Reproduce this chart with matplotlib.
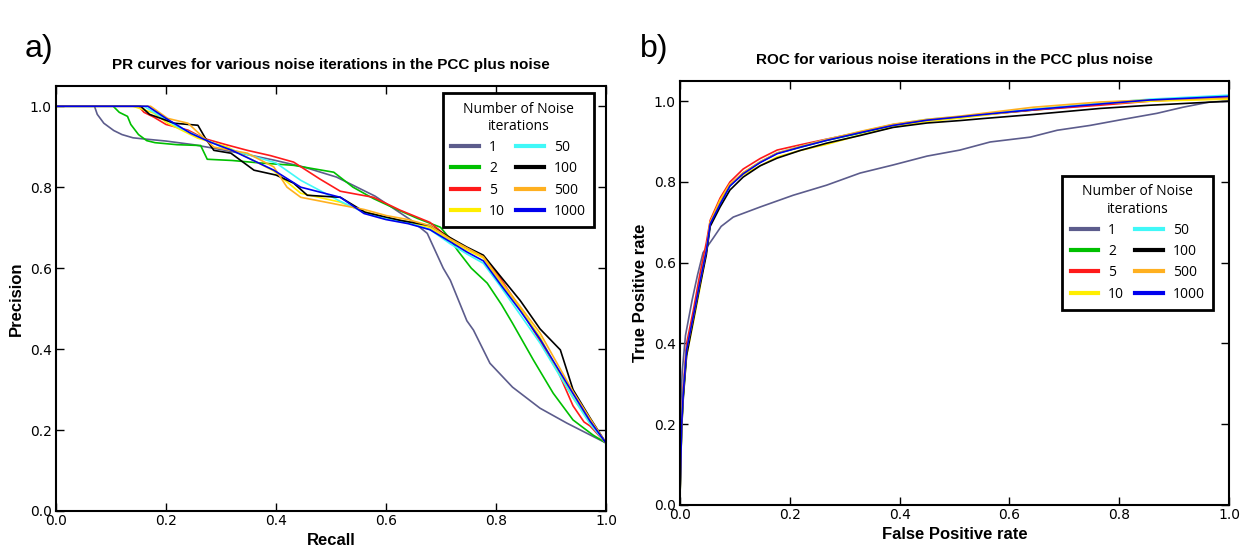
import matplotlib
matplotlib.use("Agg")
import matplotlib.pyplot as plt

# ---- data ----
labels = ["1", "2", "5", "10", "50", "100", "500", "1000"]
colors = ["#5c5c8c", "#00c000", "#ff1a1a", "#ffee00", "#40f8f8", "#000000", "#ffb020", "#0000ee"]

# PR curves (recall, precision)
pr_rec_1 = [0, 0.07, 0.075, 0.087, 0.105, 0.12, 0.14, 0.154, 0.2, 0.25, 0.3, 0.35, 0.396, 0.45, 0.51, 0.58, 0.644, 0.675, 0.704, 0.717, 0.747, 0.759, 0.789, 0.83, 0.88, 0.929, 0.971, 1.0]
pr_pre_1 = [1.0, 1.0, 0.98, 0.958, 0.94, 0.93, 0.922, 0.92, 0.914, 0.905, 0.893, 0.88, 0.867, 0.85, 0.825, 0.778, 0.72, 0.686, 0.60, 0.57, 0.47, 0.447, 0.365, 0.306, 0.254, 0.217, 0.188, 0.168]
pr_rec_2 = [0, 0.104, 0.115, 0.13, 0.136, 0.15, 0.165, 0.18, 0.22, 0.263, 0.275, 0.32, 0.37, 0.432, 0.505, 0.54, 0.577, 0.62, 0.657, 0.699, 0.715, 0.73, 0.755, 0.784, 0.81, 0.83, 0.868, 0.904, 0.94, 0.976, 1.0]
pr_pre_2 = [1.0, 1.0, 0.985, 0.975, 0.955, 0.93, 0.915, 0.91, 0.905, 0.903, 0.869, 0.866, 0.86, 0.854, 0.837, 0.80, 0.772, 0.745, 0.723, 0.701, 0.675, 0.644, 0.60, 0.563, 0.51, 0.464, 0.373, 0.291, 0.225, 0.188, 0.168]
pr_rec_5 = [0, 0.15, 0.16, 0.178, 0.2, 0.24, 0.27, 0.312, 0.348, 0.39, 0.432, 0.48, 0.517, 0.577, 0.626, 0.68, 0.704, 0.73, 0.777, 0.808, 0.844, 0.88, 0.911, 0.94, 0.96, 0.971, 1.0]
pr_pre_5 = [1.0, 1.0, 0.985, 0.973, 0.955, 0.941, 0.92, 0.904, 0.891, 0.878, 0.862, 0.82, 0.79, 0.775, 0.743, 0.713, 0.686, 0.662, 0.628, 0.575, 0.50, 0.42, 0.35, 0.26, 0.22, 0.21, 0.168]
pr_rec_10 = [0, 0.14, 0.178, 0.203, 0.258, 0.312, 0.396, 0.445, 0.517, 0.56, 0.6, 0.64, 0.68, 0.717, 0.747, 0.777, 0.808, 0.844, 0.88, 0.911, 0.94, 0.971, 1.0]
pr_pre_10 = [1.0, 1.0, 0.983, 0.958, 0.921, 0.899, 0.84, 0.785, 0.763, 0.74, 0.725, 0.715, 0.70, 0.668, 0.645, 0.625, 0.565, 0.50, 0.43, 0.35, 0.28, 0.22, 0.168]
pr_rec_50 = [0, 0.16, 0.19, 0.22, 0.26, 0.3, 0.35, 0.4, 0.445, 0.517, 0.56, 0.6, 0.64, 0.68, 0.717, 0.747, 0.777, 0.808, 0.844, 0.88, 0.911, 0.94, 0.971, 1.0]
pr_pre_50 = [1.0, 1.0, 0.975, 0.95, 0.925, 0.9, 0.88, 0.86, 0.817, 0.765, 0.738, 0.722, 0.712, 0.695, 0.66, 0.635, 0.612, 0.555, 0.485, 0.415, 0.345, 0.28, 0.215, 0.168]
pr_rec_100 = [0, 0.154, 0.17, 0.215, 0.258, 0.272, 0.287, 0.318, 0.36, 0.4, 0.432, 0.457, 0.517, 0.562, 0.626, 0.68, 0.717, 0.747, 0.777, 0.808, 0.844, 0.88, 0.917, 0.94, 0.971, 1.0]
pr_pre_100 = [1.0, 1.0, 0.98, 0.958, 0.953, 0.92, 0.891, 0.884, 0.842, 0.83, 0.81, 0.78, 0.775, 0.738, 0.718, 0.705, 0.675, 0.652, 0.632, 0.58, 0.52, 0.45, 0.398, 0.30, 0.23, 0.168]
pr_rec_500 = [0, 0.172, 0.203, 0.24, 0.287, 0.348, 0.396, 0.42, 0.445, 0.517, 0.56, 0.6, 0.64, 0.68, 0.717, 0.747, 0.777, 0.808, 0.844, 0.88, 0.911, 0.94, 0.971, 1.0]
pr_pre_500 = [1.0, 1.0, 0.97, 0.958, 0.899, 0.884, 0.85, 0.80, 0.775, 0.756, 0.745, 0.73, 0.72, 0.705, 0.672, 0.65, 0.628, 0.57, 0.505, 0.44, 0.365, 0.295, 0.228, 0.168]
pr_rec_1000 = [0, 0.167, 0.2, 0.245, 0.281, 0.32, 0.396, 0.445, 0.517, 0.56, 0.6, 0.64, 0.68, 0.717, 0.747, 0.777, 0.808, 0.844, 0.88, 0.911, 0.94, 0.971, 1.0]
pr_pre_1000 = [1.0, 1.0, 0.97, 0.933, 0.911, 0.891, 0.842, 0.80, 0.775, 0.735, 0.72, 0.71, 0.695, 0.665, 0.64, 0.618, 0.56, 0.495, 0.425, 0.355, 0.29, 0.222, 0.168]

# ROC curves (fpr, tpr)
roc_fpr_1 = [0, 0.0, 0.004, 0.01, 0.022, 0.032, 0.042, 0.06, 0.075, 0.097, 0.146, 0.206, 0.267, 0.328, 0.388, 0.45, 0.51, 0.565, 0.638, 0.687, 0.747, 0.807, 0.869, 0.916, 0.965, 1.0]
roc_tpr_1 = [0, 0.2, 0.33, 0.42, 0.507, 0.57, 0.625, 0.66, 0.69, 0.713, 0.738, 0.767, 0.792, 0.822, 0.842, 0.864, 0.879, 0.899, 0.911, 0.928, 0.94, 0.955, 0.97, 0.985, 0.998, 1.0]
roc_fpr = [0, 0.0, 0.003, 0.006, 0.012, 0.024, 0.036, 0.048, 0.055, 0.073, 0.091, 0.115, 0.146, 0.177, 0.219, 0.267, 0.328, 0.388, 0.45, 0.51, 0.552, 0.643, 0.765, 0.856, 1.0]
roc_tpr_2 = [0, 0.02, 0.2, 0.277, 0.383, 0.465, 0.549, 0.631, 0.698, 0.747, 0.792, 0.822, 0.849, 0.871, 0.886, 0.903, 0.921, 0.94, 0.953, 0.96, 0.967, 0.978, 0.992, 1.002, 1.01]
roc_tpr_5 = [0, 0.02, 0.21, 0.29, 0.40, 0.48, 0.57, 0.65, 0.705, 0.76, 0.80, 0.832, 0.858, 0.879, 0.892, 0.906, 0.923, 0.942, 0.953, 0.96, 0.966, 0.978, 0.99, 1.0, 1.01]
roc_tpr_10 = [0, 0.02, 0.19, 0.27, 0.37, 0.45, 0.535, 0.625, 0.70, 0.755, 0.795, 0.818, 0.84, 0.862, 0.878, 0.893, 0.916, 0.936, 0.95, 0.958, 0.965, 0.98, 0.994, 1.0, 1.005]
roc_tpr_50 = [0, 0.02, 0.2, 0.275, 0.38, 0.46, 0.545, 0.63, 0.695, 0.745, 0.79, 0.822, 0.85, 0.872, 0.888, 0.905, 0.924, 0.942, 0.955, 0.962, 0.968, 0.98, 0.995, 1.005, 1.015]
roc_tpr_100 = [0, 0.03, 0.19, 0.265, 0.37, 0.455, 0.54, 0.62, 0.69, 0.738, 0.78, 0.812, 0.84, 0.859, 0.878, 0.896, 0.915, 0.935, 0.946, 0.952, 0.957, 0.967, 0.982, 0.99, 1.0]
roc_tpr_500 = [0, 0.02, 0.2, 0.28, 0.385, 0.465, 0.55, 0.632, 0.70, 0.75, 0.793, 0.823, 0.85, 0.872, 0.888, 0.905, 0.925, 0.943, 0.955, 0.963, 0.97, 0.985, 0.998, 1.003, 1.008]
roc_tpr_1000 = [0, 0.02, 0.2, 0.278, 0.384, 0.466, 0.55, 0.63, 0.696, 0.745, 0.79, 0.82, 0.848, 0.87, 0.886, 0.903, 0.922, 0.94, 0.953, 0.961, 0.967, 0.979, 0.993, 1.003, 1.012]

pr_curves = [(pr_rec_1, pr_pre_1), (pr_rec_2, pr_pre_2), (pr_rec_5, pr_pre_5), (pr_rec_10, pr_pre_10),
             (pr_rec_50, pr_pre_50), (pr_rec_100, pr_pre_100), (pr_rec_500, pr_pre_500), (pr_rec_1000, pr_pre_1000)]
roc_curves = [(roc_fpr_1, roc_tpr_1), (roc_fpr, roc_tpr_2), (roc_fpr, roc_tpr_5), (roc_fpr, roc_tpr_10),
              (roc_fpr, roc_tpr_50), (roc_fpr, roc_tpr_100), (roc_fpr, roc_tpr_500), (roc_fpr, roc_tpr_1000)]

ticks = [0.0, 0.2, 0.4, 0.6, 0.8, 1.0]

headfont = "Liberation Sans"   # stand-in for the condensed bold face
legfont = "Open Sans"

fig = plt.figure(figsize=(12.56, 5.5), dpi=100)
ax1 = fig.add_axes([56 / 1256, 1 - 511 / 550, 550 / 1256, 425 / 550])
ax2 = fig.add_axes([680 / 1256, 1 - 505 / 550, 549 / 1256, 424 / 550])


def style(ax, title, xlabel, ylabel, curves, leg_anchor):
    for (x, y), c, lab in zip(curves, colors, labels):
        ax.plot(x, y, color=c, lw=1.2, label=lab)
    ax.set_xlim(0, 1.0)
    ax.set_ylim(0, 1.05)
    ax.set_xticks(ticks)
    ax.set_yticks(ticks)
    ax.set_xticklabels(["%.1f" % t for t in ticks])
    ax.set_yticklabels(["%.1f" % t for t in ticks])
    ax.tick_params(direction="in", top=True, right=True, length=6, width=1, labelsize=10, pad=2)
    ax.tick_params(axis="y", pad=3)
    for s in ax.spines.values():
        s.set_linewidth(1.5)
    ax.set_title(title, fontsize=11, fontweight="bold", family=headfont, pad=12)
    ax.set_xlabel(xlabel, fontsize=12, fontweight="bold", family=headfont, labelpad=4)
    ax.set_ylabel(ylabel, fontsize=12, fontweight="bold", family=headfont, labelpad=4)
    leg = ax.legend(ncol=2, loc="upper right", bbox_to_anchor=leg_anchor, borderaxespad=0,
                    title="Number of Noise\niterations", fancybox=False, framealpha=1,
                    handlelength=2.0, handletextpad=0.7, columnspacing=0.8, labelspacing=0.45,
                    borderpad=0.6, prop={"family": legfont, "size": 10},
                    title_fontproperties={"family": legfont, "size": 10})
    leg.get_title().set_multialignment("center")
    leg.get_frame().set_edgecolor("black")
    leg.get_frame().set_linewidth(2)
    for h in leg.legend_handles:
        h.set_linewidth(3)


style(ax1, "PR curves for various noise iterations in the PCC plus noise", "Recall", "Precision",
      pr_curves, (0.978, 0.983))
style(ax2, "ROC for various noise iterations in the PCC plus noise", "False Positive rate", "True Positive rate",
      roc_curves, (0.971, 0.776))

fig.text(25 / 1256, 1 - 57 / 550, "a)", fontsize=23, family=headfont)
fig.text(640 / 1256, 1 - 57 / 550, "b)", fontsize=23, family=headfont)

fig.savefig("out.png", dpi=100)
